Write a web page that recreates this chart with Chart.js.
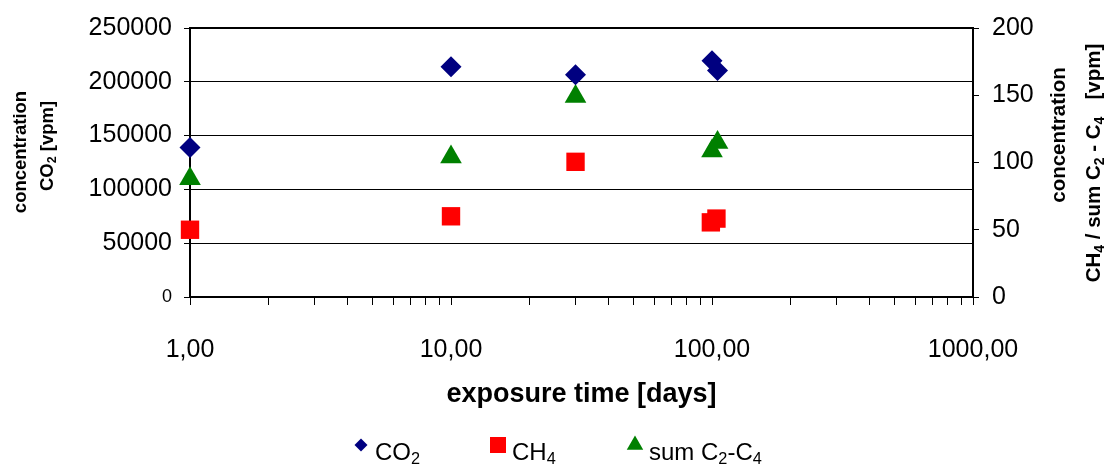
<!DOCTYPE html>
<html>
<head>
<meta charset="utf-8">
<script src="https://cdn.jsdelivr.net/npm/chart.js@4.4.0/dist/chart.umd.min.js"></script>
<style>
  html, body { margin: 0; padding: 0; background: #fff; }
  #wrap { width: 1109px; height: 466px; }
</style>
</head>
<body>
<div id="wrap"><canvas id="data-chart"></canvas></div>
<script>
// exposure time [days] and measured concentrations
const co2Days = [1, 10, 30, 100, 105];
const co2Values = [139000, 214000, 206500, 219500, 210500];   // vpm, left axis
const ch4Days = [1, 10, 30, 99, 104];
const ch4Values = [50, 60, 100.5, 55.5, 58.3];               // vpm, right axis
const sumDays = [1, 10, 30, 100, 105];
const sumValues = [88, 104, 149, 108.5, 114.8];              // vpm, right axis

// axis ticks
const xTickValues = [1, 2, 3, 4, 5, 6, 7, 8, 9, 10, 20, 30, 40, 50, 60, 70, 80, 90,
  100, 200, 300, 400, 500, 600, 700, 800, 900, 1000];
const xTickLabels = { 1: "1,00", 10: "10,00", 100: "100,00", 1000: "1000,00" };
const leftTicks = [0, 50000, 100000, 150000, 200000, 250000];
const rightTicks = [0, 50, 100, 150, 200];

// text pieces with subscripts: [text, isSubscript]
const leftTitle = [[["concentration", false]], [["CO", false], ["2", true], [" [vpm]", false]]];
const rightTitle = [[["concentration", false]],
  [["CH", false], ["4", true], [" / sum C", false], ["2", true], [" - C", false], ["4", true], ["   [vpm]", false]]];
const legendItems = [
  { text: [["CO", false], ["2", true]], style: "rectRot", radius: 6.5, color: "#000080" },
  { text: [["CH", false], ["4", true]], style: "rect", radius: 11.3, color: "#ff0000" },
  { text: [["sum C", false], ["2", true], ["-C", false], ["4", true]], style: "triangle", radius: 9.5, color: "#008000" },
];

const FONT = "'Liberation Sans', Arial, sans-serif";
Chart.defaults.font.family = FONT;
Chart.defaults.color = "#000";

function points(xs, ys) {
  return xs.map((x, i) => ({ x: x, y: ys[i] }));
}

// draws text with subscripts starting at x (or centred on x), baseline y
function richText(ctx, parts, x, y, size, bold, centre) {
  const w = bold ? "bold " : "";
  let total = 0;
  parts.forEach(([t, sub]) => {
    ctx.font = w + (sub ? size * 0.68 : size) + "px " + FONT;
    total += ctx.measureText(t).width;
  });
  let cx = centre ? x - total / 2 : x;
  ctx.textAlign = "left";
  ctx.textBaseline = "alphabetic";
  ctx.fillStyle = "#000";
  parts.forEach(([t, sub]) => {
    ctx.font = w + (sub ? size * 0.68 : size) + "px " + FONT;
    ctx.fillText(t, cx, sub ? y + size * 0.16 : y);
    cx += ctx.measureText(t).width;
  });
}

function verticalTitle(ctx, parts, x, y, size) {
  ctx.save();
  ctx.translate(x, y);
  ctx.rotate(-Math.PI / 2);
  richText(ctx, parts, 0, size * 0.36, size, true, true);
  ctx.restore();
}

const framePlugin = {
  id: "frame",
  beforeDatasetsDraw(chart) {
    const { ctx, chartArea: a } = chart;
    ctx.save();
    ctx.strokeStyle = "#000";
    ctx.lineWidth = 2;
    ctx.strokeRect(a.left, a.top, a.right - a.left, a.bottom - a.top);

    verticalTitle(ctx, leftTitle[0], 19, 152, 18.5);
    verticalTitle(ctx, leftTitle[1], 46, 146, 18.5);
    verticalTitle(ctx, rightTitle[0], 1058, 135, 20.5);
    verticalTitle(ctx, rightTitle[1], 1093, 163, 20.5);
    ctx.restore();
  },
  afterDraw(chart) {
    const ctx = chart.ctx;
    const markerX = [361, 498, 635];
    ctx.save();
    legendItems.forEach((item, i) => {
      ctx.fillStyle = item.color;
      ctx.strokeStyle = item.color;
      Chart.helpers.drawPoint(ctx, { pointStyle: item.style, radius: item.radius, rotation: 0, borderWidth: 0 }, markerX[i], 445);
      richText(ctx, item.text, markerX[i] + 14, 460, 24, false, false);
    });
    ctx.restore();
  },
};

function createChart() {
  const ctx = document.getElementById("data-chart").getContext("2d");
  new Chart(ctx, {
    type: "scatter",
    data: {
      datasets: [
        {
          label: "CO2",
          data: points(co2Days, co2Values),
          yAxisID: "y",
          pointStyle: "rectRot",
          pointRadius: 10.5,
          backgroundColor: "#000080",
          borderColor: "#000080",
          borderWidth: 0,
          clip: false,
        },
        {
          label: "CH4",
          data: points(ch4Days, ch4Values),
          yAxisID: "y1",
          pointStyle: "rect",
          pointRadius: 13,
          backgroundColor: "#ff0000",
          borderColor: "#ff0000",
          borderWidth: 0,
          clip: false,
        },
        {
          label: "sum C2-C4",
          data: points(sumDays, sumValues),
          yAxisID: "y1",
          pointStyle: "triangle",
          pointRadius: 12.5,
          backgroundColor: "#008000",
          borderColor: "#008000",
          borderWidth: 0,
          clip: false,
        },
      ],
    },
    options: {
      responsive: true,
      maintainAspectRatio: false,
      animation: false,
      layout: { padding: { top: 24, bottom: 41, left: 0, right: 0 } },
      plugins: {
        legend: { display: false },
        tooltip: { enabled: false },
      },
      scales: {
        x: {
          type: "logarithmic",
          position: "bottom",
          min: 1,
          max: 1000,
          afterBuildTicks: (s) => { s.ticks = xTickValues.map((v) => ({ value: v })); },
          afterFit: (s) => { s.height = 128; },
          ticks: {
            autoSkip: false,
            maxRotation: 0,
            padding: 30,
            font: { size: 25 },
            callback: (v) => xTickLabels[v] || "",
          },
          grid: { drawOnChartArea: false, drawTicks: true, tickLength: 8, color: "#000", lineWidth: 1 },
          border: { color: "#000", width: 2 },
          title: {
            display: true,
            text: "exposure time [days]",
            font: { size: 27, weight: "bold" },
            padding: { top: 12, bottom: 14 },
          },
        },
        y: {
          position: "left",
          min: 0,
          max: 250000,
          afterBuildTicks: (s) => { s.ticks = leftTicks.map((v) => ({ value: v })); },
          afterFit: (s) => { s.width = 190; },
          ticks: {
            padding: 12,
            font: (c) => (c.tick && c.tick.value === 0 ? { size: 18 } : { size: 25 }),
            callback: (v) => String(v),
          },
          grid: { color: "#000", lineWidth: 1, tickLength: 6 },
          border: { color: "#000", width: 2 },
        },
        y1: {
          position: "right",
          min: 0,
          max: 200,
          afterBuildTicks: (s) => { s.ticks = rightTicks.map((v) => ({ value: v })); },
          afterFit: (s) => { s.width = 136; },
          ticks: { padding: 13, font: { size: 25 } },
          grid: { drawOnChartArea: false, color: "#000", lineWidth: 1, tickLength: 6 },
          border: { color: "#000", width: 2 },
        },
      },
    },
    plugins: [framePlugin],
  });
}

document.addEventListener("DOMContentLoaded", function () {
  createChart();
});
</script>
</body>
</html>
